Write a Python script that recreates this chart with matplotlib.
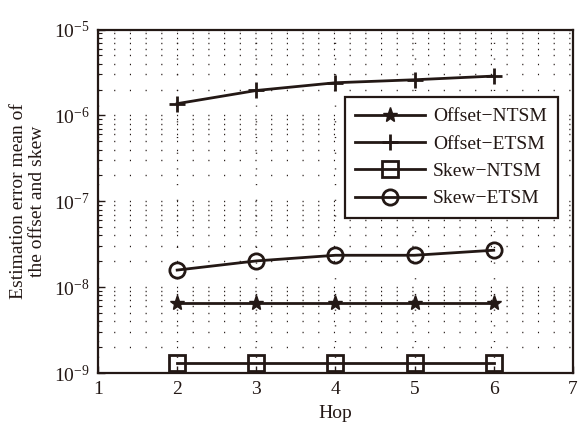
import matplotlib
matplotlib.use("Agg")
import matplotlib.pyplot as plt
import numpy as np
from matplotlib.ticker import LogLocator, FixedLocator, NullFormatter

plt.rcParams['font.family'] = ['Liberation Serif', 'DejaVu Serif']
plt.rcParams['mathtext.fontset'] = 'stix'

hops = [2, 3, 4, 5, 6]
offset_ntsm = [6.6e-9, 6.6e-9, 6.6e-9, 6.6e-9, 6.6e-9]
offset_etsm = [1.37e-6, 1.95e-6, 2.4e-6, 2.6e-6, 2.87e-6]
skew_ntsm = [1.3e-9, 1.3e-9, 1.3e-9, 1.3e-9, 1.3e-9]
skew_etsm = [1.58e-8, 2.02e-8, 2.35e-8, 2.35e-8, 2.69e-8]
labels = ['Offset\u2212NTSM', 'Offset\u2212ETSM', 'Skew\u2212NTSM', 'Skew\u2212ETSM']
xticks = [1, 2, 3, 4, 5, 6, 7]

C = '#231815'

fig = plt.figure(figsize=(5.78, 4.23), dpi=100)
ax = fig.add_axes([0.1696, 0.1182, 0.8215, 0.8120])

ax.set_yscale('log')
ax.set_xlim(1, 7)
ax.set_ylim(1e-9, 1e-5)

# grid
grid_style = dict(color=C, linestyle=(0, (0.8, 10.5)), linewidth=1.0, zorder=0)
for xv in xticks:
    ax.axvline(xv, **grid_style)
for dec in range(-9, -5 + 1):
    for m in range(1, 10):
        v = m * 10.0 ** dec
        if 1e-9 <= v <= 1e-5:
            ax.axhline(v, **grid_style)

lw = 2.0
ax.plot(hops, offset_ntsm, color=C, lw=lw, marker='*', ms=11, mfc=C, mec=C, label=labels[0], zorder=3)
ax.plot(hops, offset_etsm, color=C, lw=lw, marker='+', ms=12, mew=2, mec=C, label=labels[1], zorder=3)
ax.plot(hops, skew_ntsm, color=C, lw=lw, marker='s', ms=11, mew=2, mfc='none', mec=C, label=labels[2], zorder=3)
ax.plot(hops, skew_etsm, color=C, lw=lw, marker='o', ms=11, mew=2, mfc='none', mec=C, label=labels[3], zorder=3)

ax.xaxis.set_major_locator(FixedLocator(xticks))
ax.yaxis.set_major_locator(LogLocator(base=10, numticks=10))
ax.yaxis.set_minor_locator(LogLocator(base=10, subs=np.arange(2, 10), numticks=20))
ax.yaxis.set_minor_formatter(NullFormatter())
ax.tick_params(axis='both', which='both', direction='in', colors=C, labelcolor=C)
ax.tick_params(axis='both', which='major', length=5, width=1, labelsize=14)
ax.tick_params(axis='y', which='minor', length=3, width=0.8)
ax.tick_params(axis='x', pad=6)
ax.tick_params(axis='y', pad=6)

for s in ax.spines.values():
    s.set_color(C)
    s.set_linewidth(1.6)

ax.set_xlabel('Hop', fontsize=14, color=C, labelpad=5)
ax.set_ylabel('Estimation error mean of\nthe offset and skew', fontsize=14, color=C, labelpad=6,
              linespacing=1.15)

leg = ax.legend(loc='upper right', bbox_to_anchor=(0.968, 0.803), borderaxespad=0,
                fontsize=14, handlelength=3.6, frameon=True, fancybox=False,
                edgecolor=C, framealpha=1, labelspacing=0.5, borderpad=0.55,
                handletextpad=0.4)
leg.get_frame().set_linewidth(1.6)
for t in leg.get_texts():
    t.set_color(C)

fig.savefig('out.png', dpi=100)
